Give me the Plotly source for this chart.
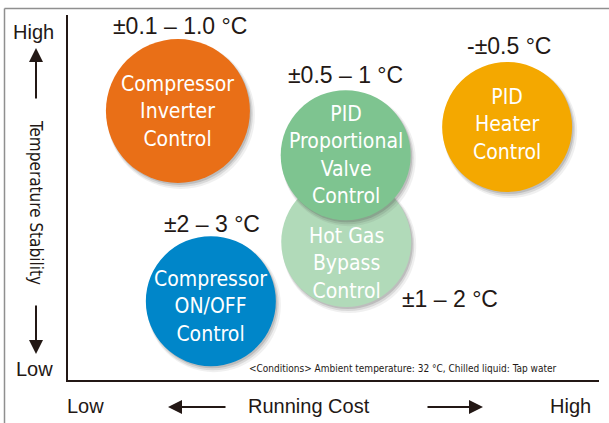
import plotly.graph_objects as go

# ---- data ----
methods = ["Compressor<br>Inverter<br>Control",
           "PID<br>Heater<br>Control",
           "Compressor<br>ON/OFF<br>Control",
           "Hot Gas<br>Bypass<br>Control",
           "PID<br>Proportional<br>Valve<br>Control"]
running_cost = [2.07, 8.27, 2.69, 5.24, 5.23]   # relative, 0 (low) - 10 (high)
stability = [7.37, 6.93, 2.16, 3.78, 6.16]      # relative, 0 (low) - 10 (high)
ranges = ["±0.1 – 1.0 °C", "-±0.5 °C", "±2 – 3 °C", "±1 – 2 °C", "±0.5 – 1 °C"]

# ---- styles ----
colors = ["#E96F17", "#F4A800", "#0086C9", "#B1DAB9", "#7EC490"]
radii = [72, 65, 65, 65, 65]
text_shift = [0, 3, -5, -21, 0]
range_offsets = [(2, 85), (2, 81), (1, 77), (104, -57), (0, 80)]
INK = "#231815"
NARROW = "DejaVu Sans Condensed, Liberation Sans Narrow, Arial Narrow, sans-serif"
REG = "Liberation Sans, Arial, sans-serif"

L, R, T, B = 68, 10, 15, 43
W, H = 609, 423
pw, ph = W - L - R, H - T - B


def px(xp):
    return (xp - L) / pw


def py(yp):
    return (H - B - yp) / ph


fig = go.Figure()
fig.add_trace(go.Scatter(x=running_cost, y=stability, mode="markers",
                         marker=dict(size=1, opacity=0), hoverinfo="skip",
                         showlegend=False))

shapes = []
annotations = []
for i in range(len(methods)):
    r = radii[i]
    xa, ya = running_cost[i], stability[i]
    # soft shadow
    for (dx, dy, grow, a) in [(3, 4, 2, 0.08), (2, 3, 1, 0.12), (1.5, 2, 0, 0.18)]:
        shapes.append(dict(type="circle", xref="x", yref="y",
                           xsizemode="pixel", ysizemode="pixel",
                           xanchor=xa, yanchor=ya,
                           x0=-r + dx - grow, x1=r + dx + grow,
                           y0=-r - dy - grow, y1=r - dy + grow,
                           fillcolor=f"rgba(60,60,60,{a})", line=dict(width=0),
                           layer="above"))
    shapes.append(dict(type="circle", xref="x", yref="y",
                       xsizemode="pixel", ysizemode="pixel",
                       xanchor=xa, yanchor=ya, x0=-r, x1=r, y0=-r, y1=r,
                       fillcolor=colors[i], line=dict(width=0), layer="above"))
    annotations.append(dict(x=xa, y=ya, xref="x", yref="y", text=methods[i],
                            showarrow=False, yshift=text_shift[i],
                            font=dict(family=NARROW, size=21, color="white")))
    ox, oy = range_offsets[i]
    annotations.append(dict(x=xa, y=ya, xref="x", yref="y", text=ranges[i],
                            showarrow=False, xshift=ox, yshift=oy,
                            font=dict(family=REG, size=23, color=INK)))

# frame lines (top and left)
shapes.append(dict(type="line", xref="paper", yref="paper",
                   x0=px(4.5), x1=px(615), y0=py(8.5), y1=py(8.5),
                   line=dict(color="#8f8f8f", width=1.5)))
shapes.append(dict(type="line", xref="paper", yref="paper",
                   x0=px(4.5), x1=px(4.5), y0=py(8.5), y1=py(430),
                   line=dict(color="#8f8f8f", width=1.5)))

# axis texts
def txt(t, xp, yp, size=20, fam=REG, angle=0):
    annotations.append(dict(x=px(xp), y=py(yp), xref="paper", yref="paper",
                            text=t, showarrow=False, textangle=angle,
                            xanchor="center", yanchor="middle",
                            font=dict(family=fam, size=size, color=INK)))

txt("High", 33, 32)
txt("Low", 34, 369)
txt("Temperature Stability", 36, 202, size=17, fam=NARROW, angle=90)
txt("Low", 85, 406)
txt("Running Cost", 308.5, 406)
txt("High", 570, 406)
txt("&lt;Conditions&gt; Ambient temperature: 32 °C, Chilled liquid: Tap water",
    402, 368, size=10, fam=NARROW)

# arrows
def arrow(xt, yt, ax, ay):
    annotations.append(dict(x=px(xt), y=py(yt), xref="paper", yref="paper",
                            ax=ax, ay=ay, text="", showarrow=True,
                            arrowhead=2, arrowsize=1.4, arrowwidth=2,
                            arrowcolor=INK))

arrow(36, 48, 0, 52)
arrow(36, 354, 0, -50)
arrow(168, 407, 59, 0)
arrow(483, 407, -57, 0)

fig.update_layout(
    width=W, height=H,
    margin=dict(l=L, r=R, t=T, b=B, pad=0),
    paper_bgcolor="white", plot_bgcolor="white",
    showlegend=False,
    xaxis=dict(range=[0, 10], showgrid=False, zeroline=False, showticklabels=False,
               ticks="", showline=True, linecolor=INK, linewidth=2, fixedrange=True),
    yaxis=dict(range=[0, 10], showgrid=False, zeroline=False, showticklabels=False,
               ticks="", showline=True, linecolor=INK, linewidth=2, fixedrange=True),
    shapes=shapes,
    annotations=annotations,
)

fig.write_html("out.html", config={"displayModeBar": False},
               post_script="document.body.style.margin='0';document.body.style.overflow='hidden';")
